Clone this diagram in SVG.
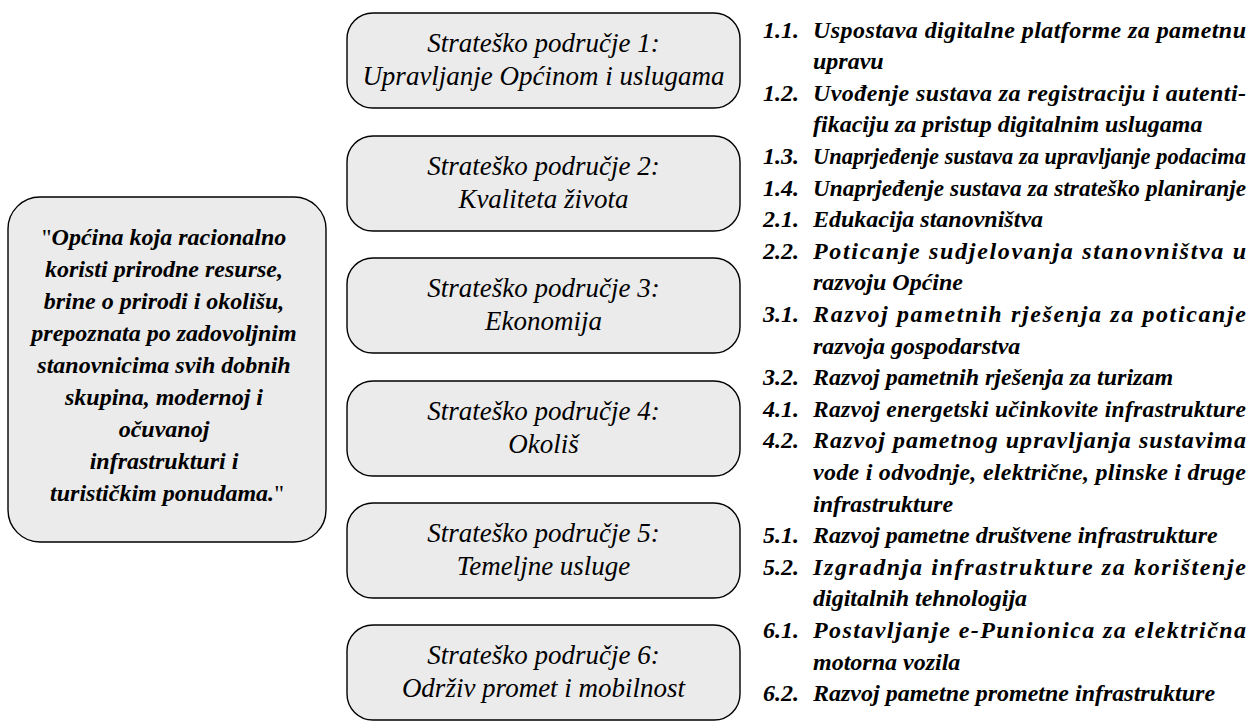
<svg xmlns="http://www.w3.org/2000/svg" width="1252" height="721" viewBox="0 0 1252 721">
<style>
.box{fill:#ebebeb;stroke:#000;stroke-width:1.4}
text{font-family:"Liberation Serif","Times New Roman",serif;fill:#000}
.area{font-style:italic;font-size:27px;text-anchor:middle}
.vis{font-style:italic;font-weight:bold;font-size:24px;text-anchor:middle}
.q{font-style:normal;font-weight:normal}
.li{font-style:italic;font-weight:bold;font-size:24px}
</style>
<rect width="1252" height="721" fill="#fff"/>
<g id="connectors"/>
<g id="vision">
<rect class="box" x="8" y="197" width="318" height="345" rx="32"/>
<text class="vis">
<tspan x="167" y="245"><tspan class="q">"</tspan>Općina koja racionalno</tspan>
<tspan x="167" y="277">koristi prirodne resurse,</tspan>
<tspan x="167" y="309">brine o prirodi i okolišu,</tspan>
<tspan x="167" y="341">prepoznata po zadovoljnim</tspan>
<tspan x="167" y="373">stanovnicima svih dobnih</tspan>
<tspan x="167" y="405">skupina, modernoj i</tspan>
<tspan x="167" y="437">očuvanoj</tspan>
<tspan x="167" y="469">infrastrukturi i</tspan>
<tspan x="167" y="501">turističkim ponudama.<tspan class="q">"</tspan></tspan>
</text>
</g>
<g id="area1">
<rect class="box" x="347" y="13" width="393" height="95" rx="26"/>
<text class="area"><tspan x="543.5" y="52">Strateško područje 1:</tspan><tspan x="543.5" y="85">Upravljanje Općinom i uslugama</tspan></text>
</g>
<g id="area2">
<rect class="box" x="347" y="136" width="393" height="95" rx="26"/>
<text class="area"><tspan x="543.5" y="175">Strateško područje 2:</tspan><tspan x="543.5" y="208">Kvaliteta života</tspan></text>
</g>
<g id="area3">
<rect class="box" x="347" y="258" width="393" height="95" rx="26"/>
<text class="area"><tspan x="543.5" y="297">Strateško područje 3:</tspan><tspan x="543.5" y="330">Ekonomija</tspan></text>
</g>
<g id="area4">
<rect class="box" x="347" y="381" width="393" height="95" rx="26"/>
<text class="area"><tspan x="543.5" y="420">Strateško područje 4:</tspan><tspan x="543.5" y="453">Okoliš</tspan></text>
</g>
<g id="area5">
<rect class="box" x="347" y="503" width="393" height="95" rx="26"/>
<text class="area"><tspan x="543.5" y="542">Strateško područje 5:</tspan><tspan x="543.5" y="575">Temeljne usluge</tspan></text>
</g>
<g id="area6">
<rect class="box" x="347" y="625" width="393" height="95" rx="26"/>
<text class="area"><tspan x="543.5" y="664">Strateško područje 6:</tspan><tspan x="543.5" y="697">Održiv promet i mobilnost</tspan></text>
</g>
<g id="measures">
<text class="li" x="763" y="37.5">1.1.</text>
<text class="li" x="813" y="37.5" textLength="433" lengthAdjust="spacing">Uspostava digitalne platforme za pametnu</text>
<text class="li" x="813" y="69.1">upravu</text>
<text class="li" x="763" y="100.7">1.2.</text>
<text class="li" x="813" y="100.7" textLength="433" lengthAdjust="spacing">Uvođenje sustava za registraciju i autenti-</text>
<text class="li" x="813" y="132.3">fikaciju za pristup digitalnim uslugama</text>
<text class="li" x="763" y="163.9">1.3.</text>
<text class="li" x="813" y="163.9" style="font-size:22.4px" textLength="433" lengthAdjust="spacing">Unaprjeđenje sustava za upravljanje podacima</text>
<text class="li" x="763" y="195.5">1.4.</text>
<text class="li" x="813" y="195.5" style="font-size:23.2px" textLength="433" lengthAdjust="spacing">Unaprjeđenje sustava za strateško planiranje</text>
<text class="li" x="763" y="227.1">2.1.</text>
<text class="li" x="813" y="227.1">Edukacija stanovništva</text>
<text class="li" x="763" y="258.7">2.2.</text>
<text class="li" x="813" y="258.7" textLength="433" lengthAdjust="spacing">Poticanje sudjelovanja stanovništva u</text>
<text class="li" x="813" y="290.3">razvoju Općine</text>
<text class="li" x="763" y="321.9">3.1.</text>
<text class="li" x="813" y="321.9" textLength="433" lengthAdjust="spacing">Razvoj pametnih rješenja za poticanje</text>
<text class="li" x="813" y="353.5">razvoja gospodarstva</text>
<text class="li" x="763" y="385.1">3.2.</text>
<text class="li" x="813" y="385.1">Razvoj pametnih rješenja za turizam</text>
<text class="li" x="763" y="416.7">4.1.</text>
<text class="li" x="813" y="416.7" style="font-size:23.5px" textLength="433" lengthAdjust="spacing">Razvoj energetski učinkovite infrastrukture</text>
<text class="li" x="763" y="448.3">4.2.</text>
<text class="li" x="813" y="448.3" textLength="433" lengthAdjust="spacing">Razvoj pametnog upravljanja sustavima</text>
<text class="li" x="813" y="479.9" textLength="433" lengthAdjust="spacing">vode i odvodnje, električne, plinske i druge</text>
<text class="li" x="813" y="511.5">infrastrukture</text>
<text class="li" x="763" y="543.1">5.1.</text>
<text class="li" x="813" y="543.1">Razvoj pametne društvene infrastrukture</text>
<text class="li" x="763" y="574.7">5.2.</text>
<text class="li" x="813" y="574.7" textLength="433" lengthAdjust="spacing">Izgradnja infrastrukture za korištenje</text>
<text class="li" x="813" y="606.3">digitalnih tehnologija</text>
<text class="li" x="763" y="637.9">6.1.</text>
<text class="li" x="813" y="637.9" textLength="433" lengthAdjust="spacing">Postavljanje e-Punionica za električna</text>
<text class="li" x="813" y="669.5">motorna vozila</text>
<text class="li" x="763" y="701.1">6.2.</text>
<text class="li" x="813" y="701.1">Razvoj pametne prometne infrastrukture</text>
</g>
</svg>
